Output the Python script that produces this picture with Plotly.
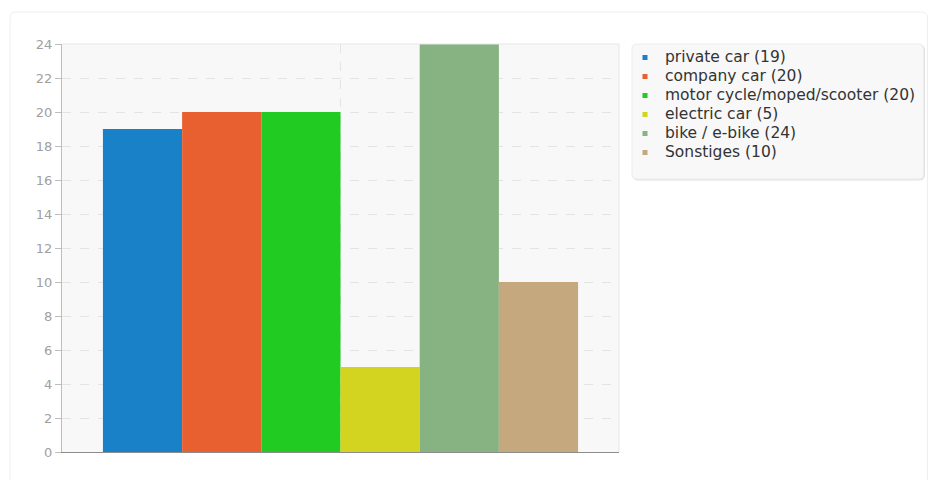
import plotly.graph_objects as go

# Mode of transport counts
categories = ["private car", "company car", "motor cycle/moped/scooter",
              "electric car", "bike / e-bike", "Sonstiges"]
values = [19, 20, 20, 5, 24, 10]
colors = ["#1881c8", "#e85f30", "#21cb21", "#d3d41f", "#87b282", "#c6a87f"]
y_ticks = list(range(0, 25, 2))

W, H = 932, 480
L, R, T, B = 62, 620, 44, 452  # plot area in pixels


def px(x):
    return (x - L) / (R - L)


def py(y):
    return (B - y) / (B - T)


def rounded_rect(x0, y0, x1, y1, r):
    """SVG path (paper coords) for a rectangle given in pixels, with rounded corners."""
    pts = [
        f"M {px(x0 + r)},{py(y0)}",
        f"L {px(x1 - r)},{py(y0)}",
        f"Q {px(x1)},{py(y0)} {px(x1)},{py(y0 + r)}",
        f"L {px(x1)},{py(y1 - r)}",
        f"Q {px(x1)},{py(y1)} {px(x1 - r)},{py(y1)}",
        f"L {px(x0 + r)},{py(y1)}",
        f"Q {px(x0)},{py(y1)} {px(x0)},{py(y1 - r)}",
        f"L {px(x0)},{py(y0 + r)}",
        f"Q {px(x0)},{py(y0)} {px(x0 + r)},{py(y0)}",
        "Z",
    ]
    return " ".join(pts)


fig = go.Figure()
for name, val, col in zip(categories, values, colors):
    label = f"{name} ({val})"
    fig.add_trace(go.Bar(
        x=[""], y=[val], name=label,
        marker=dict(color=col, line=dict(width=0)),
        showlegend=False, hoverinfo="y",
    ))
    # compact square legend marker; larger text on a tight row pitch
    fig.add_trace(go.Scatter(
        x=[None], y=[None], mode="markers",
        name=f"<span style='font-size:15.5px'>{label}</span>",
        marker=dict(symbol="square", size=5, color=col),
        showlegend=True,
    ))

shapes = [
    # outer card
    dict(type="path", xref="paper", yref="paper",
         path=rounded_rect(10, 12, 929, 495, 6),
         line=dict(color="#eeeeee", width=1), fillcolor="rgba(0,0,0,0)", layer="below"),
    # legend panel: soft shadow, then the panel itself
    dict(type="path", xref="paper", yref="paper",
         path=rounded_rect(634, 45, 926, 180, 5),
         line=dict(color="#e2e2e2", width=1), fillcolor="#ececec", layer="below"),
    dict(type="path", xref="paper", yref="paper",
         path=rounded_rect(633, 44, 925, 179, 5),
         line=dict(color="#ececec", width=1), fillcolor="#f8f8f8", layer="below"),
    # top and right frame of the plot area
    dict(type="line", xref="paper", yref="paper", x0=0, x1=1, y0=1, y1=1,
         line=dict(color="#e6e6e6", width=1)),
    dict(type="line", xref="paper", yref="paper", x0=1, x1=1, y0=0, y1=1,
         line=dict(color="#e6e6e6", width=1)),
]

fig.update_layout(
    width=W, height=H,
    margin=dict(l=L, r=W - R, t=T, b=H - B, pad=0),
    paper_bgcolor="white",
    plot_bgcolor="#f8f8f8",
    barmode="group",
    bargap=0.147,
    bargroupgap=0,
    font=dict(family="DejaVu Sans", size=13, color="#333333"),
    shapes=shapes,
    legend=dict(
        x=px(625), y=py(43), xanchor="left", yanchor="top",
        bgcolor="rgba(0,0,0,0)", borderwidth=0,
        font=dict(family="DejaVu Sans", size=12, color="#333333"),
        tracegroupgap=0, itemwidth=30,
    ),
    xaxis=dict(
        type="category", range=[-0.5, 0.5],
        showgrid=True, gridcolor="#e4e4e4", griddash="dash", gridwidth=1,
        showline=True, linecolor="#8c8c8c", linewidth=1,
        ticks="", showticklabels=False, zeroline=False, fixedrange=True,
    ),
    yaxis=dict(
        range=[0, 24], tickvals=y_ticks,
        showgrid=True, gridcolor="#e4e4e4", griddash="dash", gridwidth=1,
        showline=True, linecolor="#bdbdbd", linewidth=1,
        ticks="outside", ticklen=6, tickcolor="#bdbdbd", tickwidth=1,
        tickfont=dict(family="DejaVu Sans", size=13, color="#a0a0a0"),
        zeroline=False, fixedrange=True,
    ),
)

fig.write_html("out.html")
